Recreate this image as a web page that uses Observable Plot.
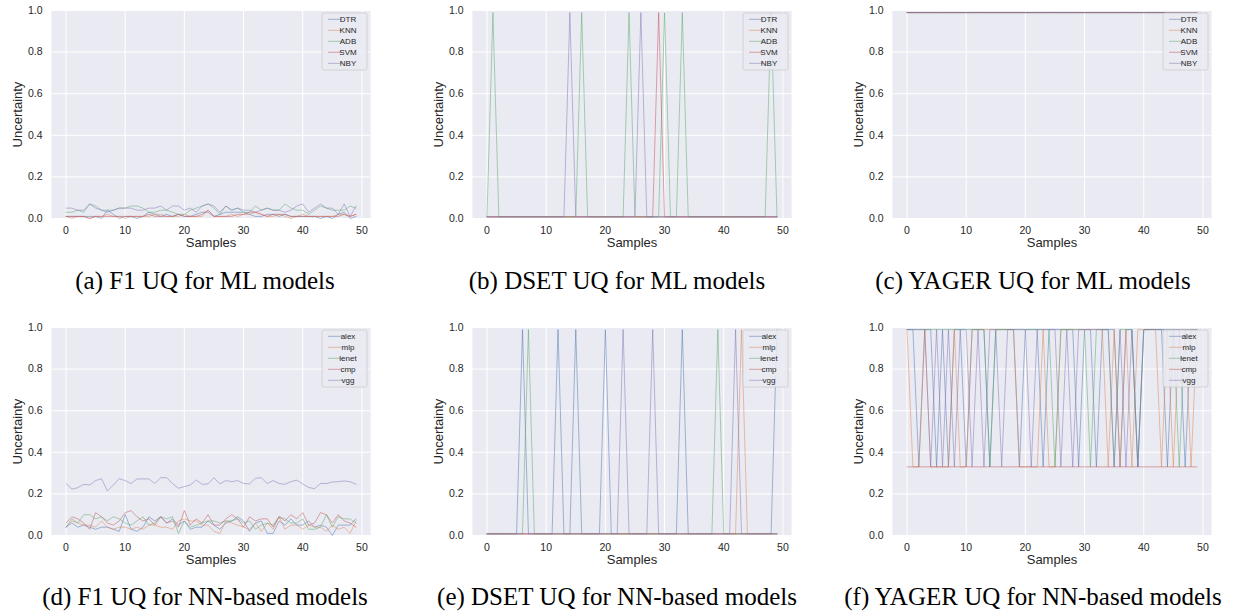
<!DOCTYPE html>
<html><head><meta charset="utf-8">
<script src="https://cdn.jsdelivr.net/npm/d3@7"></script>
<script src="https://cdn.jsdelivr.net/npm/@observablehq/plot@0.6"></script>
<style>
body{margin:0;background:#fff;width:1248px;height:612px;position:relative;overflow:hidden;font-family:"Liberation Sans",Arial,sans-serif}
.panel{position:absolute}
.cap{position:absolute;font-family:"Liberation Serif","Times New Roman",serif;font-size:25px;color:#000;white-space:nowrap;transform:translate(-50%,-50%);line-height:1}
</style></head><body>
<script>
// ---- tick labels / categories ----
const samplesTicks = [0, 10, 20, 30, 40, 50];
const uncertaintyTicks = [0, 0.2, 0.4, 0.6, 0.8, 1.0];
const mlModels = ["DTR", "KNN", "ADB", "SVM", "NBY"];
const nnModels = ["alex", "mlp", "lenet", "cmp", "vgg"];
const palette = ["#4C72B0", "#DD8452", "#55A868", "#C44E52", "#8172B3"];
const captions = ["(a) F1 UQ for ML models", "(b) DSET UQ for ML models", "(c) YAGER UQ for ML models",
  "(d) F1 UQ for NN-based models", "(e) DSET UQ for NN-based models", "(f) YAGER UQ for NN-based models"];

// ---- (a) F1 UQ, ML models ----
const f1ML_DTR = [0.01,0.01,0.01,0.01,0.01,0.01,0.00,0.04,0.02,0.00, 0.01,0.01,0.00,0.01,0.03,0.02,0.01,0.02,0.01,0.02, 0.01,0.01,0.02,0.03,0.03,0.01,0.02,0.03,0.03,0.03, 0.03,0.02,0.01,0.01,0.02,0.02,0.01,0.02,0.01,0.01, 0.01,0.01,0.01,0.00,0.01,0.00,0.02,0.03,0.00,0.01];
const f1ML_KNN = [0.01,0.00,0.01,0.01,0.00,0.01,0.01,0.02,0.01,0.01, 0.00,0.01,0.01,0.01,0.01,0.02,0.02,0.01,0.01,0.01, 0.02,0.01,0.01,0.01,0.04,0.01,0.01,0.01,0.02,0.01, 0.02,0.02,0.03,0.02,0.01,0.01,0.02,0.01,0.00,0.01, 0.02,0.01,0.01,0.01,0.01,0.01,0.02,0.02,0.01,0.02];
const f1ML_ADB = [0.03,0.03,0.04,0.03,0.07,0.06,0.04,0.04,0.04,0.05, 0.05,0.06,0.06,0.05,0.03,0.03,0.04,0.04,0.03,0.02, 0.02,0.04,0.05,0.06,0.07,0.05,0.02,0.06,0.04,0.05, 0.03,0.03,0.06,0.04,0.05,0.04,0.04,0.07,0.05,0.04, 0.04,0.02,0.04,0.06,0.05,0.04,0.04,0.04,0.06,0.05];
const f1ML_SVM = [0.01,0.01,0.01,0.01,0.00,0.01,0.01,0.01,0.01,0.01, 0.01,0.01,0.01,0.01,0.02,0.01,0.01,0.01,0.01,0.02, 0.01,0.01,0.01,0.02,0.04,0.01,0.01,0.01,0.01,0.02, 0.02,0.03,0.03,0.02,0.01,0.02,0.02,0.02,0.01,0.01, 0.01,0.01,0.01,0.01,0.01,0.01,0.01,0.02,0.01,0.02];
const f1ML_NBY = [0.05,0.05,0.04,0.04,0.07,0.05,0.04,0.03,0.04,0.05, 0.05,0.05,0.04,0.04,0.05,0.05,0.06,0.04,0.06,0.06, 0.04,0.05,0.03,0.06,0.07,0.06,0.03,0.06,0.04,0.05, 0.04,0.04,0.03,0.04,0.05,0.04,0.04,0.03,0.04,0.06, 0.07,0.03,0.05,0.07,0.05,0.05,0.02,0.07,0.01,0.06];

// ---- (b) DSET UQ, ML models ----
const dsML_DTR = [0.008,0.008,0.008,0.008,0.008,0.008,0.008,0.008,0.008,0.008, 0.008,0.008,0.008,0.008,0.008,0.008,0.008,0.008,0.008,0.008, 0.008,0.008,0.008,0.008,0.008,0.008,0.008,0.008,0.008,0.008, 0.008,0.008,0.008,0.008,0.008,0.008,0.008,0.008,0.008,0.008, 0.008,0.008,0.008,0.008,0.008,0.008,0.008,0.008,0.008,0.008];
const dsML_KNN = [0.008,0.008,0.008,0.008,0.008,0.008,0.008,0.008,0.008,0.008, 0.008,0.008,0.008,0.008,0.008,0.008,0.008,0.008,0.008,0.008, 0.008,0.008,0.008,0.008,0.008,0.008,0.008,0.008,0.008,0.008, 0.008,0.008,0.008,0.008,0.008,0.008,0.008,0.008,0.008,0.008, 0.008,0.008,0.008,0.008,0.008,0.008,0.008,0.008,0.008,0.008];
const dsML_ADB = [0.008,0.99,0.008,0.008,0.008,0.008,0.008,0.008,0.008,0.008, 0.008,0.008,0.008,0.008,0.008,0.008,0.99,0.008,0.008,0.008, 0.008,0.008,0.008,0.008,0.99,0.008,0.008,0.008,0.008,0.008, 0.99,0.008,0.008,0.99,0.008,0.008,0.008,0.008,0.008,0.008, 0.008,0.008,0.008,0.008,0.008,0.008,0.008,0.008,0.99,0.008];
const dsML_SVM = [0.008,0.008,0.008,0.008,0.008,0.008,0.008,0.008,0.008,0.008, 0.008,0.008,0.008,0.008,0.008,0.008,0.008,0.008,0.008,0.008, 0.008,0.008,0.008,0.008,0.008,0.008,0.008,0.008,0.008,0.99, 0.008,0.008,0.008,0.008,0.008,0.008,0.008,0.008,0.008,0.008, 0.008,0.008,0.008,0.008,0.008,0.008,0.008,0.008,0.008,0.008];
const dsML_NBY = [0.008,0.008,0.008,0.008,0.008,0.008,0.008,0.008,0.008,0.008, 0.008,0.008,0.008,0.008,0.99,0.008,0.008,0.008,0.008,0.008, 0.008,0.008,0.008,0.008,0.008,0.008,0.99,0.008,0.008,0.008, 0.008,0.008,0.008,0.008,0.008,0.008,0.008,0.008,0.008,0.008, 0.008,0.008,0.008,0.008,0.008,0.008,0.008,0.008,0.008,0.008];

// ---- (c) YAGER UQ, ML models ----
const ygML_DTR = [0.99,0.99,0.99,0.99,0.99,0.99,0.99,0.99,0.99,0.99, 0.99,0.99,0.99,0.99,0.99,0.99,0.99,0.99,0.99,0.99, 0.99,0.99,0.99,0.99,0.99,0.99,0.99,0.99,0.99,0.99, 0.99,0.99,0.99,0.99,0.99,0.99,0.99,0.99,0.99,0.99, 0.99,0.99,0.99,0.99,0.99,0.99,0.99,0.99,0.99,0.99];
const ygML_KNN = [0.99,0.99,0.99,0.99,0.99,0.99,0.99,0.99,0.99,0.99, 0.99,0.99,0.99,0.99,0.99,0.99,0.99,0.99,0.99,0.99, 0.99,0.99,0.99,0.99,0.99,0.99,0.99,0.99,0.99,0.99, 0.99,0.99,0.99,0.99,0.99,0.99,0.99,0.99,0.99,0.99, 0.99,0.99,0.99,0.99,0.99,0.99,0.99,0.99,0.99,0.99];
const ygML_ADB = [0.99,0.99,0.99,0.99,0.99,0.99,0.99,0.99,0.99,0.99, 0.99,0.99,0.99,0.99,0.99,0.99,0.99,0.99,0.99,0.99, 0.99,0.99,0.99,0.99,0.99,0.99,0.99,0.99,0.99,0.99, 0.99,0.99,0.99,0.99,0.99,0.99,0.99,0.99,0.99,0.99, 0.99,0.99,0.99,0.99,0.99,0.99,0.99,0.99,0.99,0.99];
const ygML_SVM = [0.99,0.99,0.99,0.99,0.99,0.99,0.99,0.99,0.99,0.99, 0.99,0.99,0.99,0.99,0.99,0.99,0.99,0.99,0.99,0.99, 0.99,0.99,0.99,0.99,0.99,0.99,0.99,0.99,0.99,0.99, 0.99,0.99,0.99,0.99,0.99,0.99,0.99,0.99,0.99,0.99, 0.99,0.99,0.99,0.99,0.99,0.99,0.99,0.99,0.99,0.99];
const ygML_NBY = [0.99,0.99,0.99,0.99,0.99,0.99,0.99,0.99,0.99,0.99, 0.99,0.99,0.99,0.99,0.99,0.99,0.99,0.99,0.99,0.99, 0.99,0.99,0.99,0.99,0.99,0.99,0.99,0.99,0.99,0.99, 0.99,0.99,0.99,0.99,0.99,0.99,0.99,0.99,0.99,0.99, 0.99,0.99,0.99,0.99,0.99,0.99,0.99,0.99,0.99,0.99];

// ---- (d) F1 UQ, NN models ----
const f1NN_alex = [0.04,0.06,0.04,0.05,0.04,0.03,0.04,0.04,0.03,0.02, 0.10,0.03,0.02,0.04,0.09,0.07,0.09,0.06,0.08,0.05, 0.07,0.03,0.04,0.04,0.07,0.05,0.03,0.06,0.07,0.09, 0.07,0.02,0.06,0.07,0.01,0.01,0.07,0.05,0.08,0.05, 0.05,0.07,0.04,0.05,0.04,0.00,0.05,0.05,0.05,0.08];
const f1NN_mlp = [0.04,0.07,0.06,0.05,0.05,0.04,0.07,0.04,0.03,0.04, 0.04,0.03,0.04,0.03,0.05,0.05,0.04,0.04,0.03,0.07, 0.08,0.07,0.07,0.05,0.05,0.02,0.01,0.07,0.06,0.05, 0.04,0.03,0.06,0.02,0.06,0.03,0.09,0.03,0.05,0.05, 0.03,0.05,0.04,0.04,0.02,0.05,0.03,0.04,0.01,0.07];
const f1NN_lenet = [0.04,0.08,0.06,0.10,0.10,0.08,0.09,0.07,0.09,0.08, 0.06,0.05,0.07,0.09,0.05,0.06,0.09,0.08,0.09,0.01, 0.07,0.04,0.05,0.06,0.07,0.07,0.06,0.07,0.07,0.08, 0.06,0.07,0.03,0.05,0.06,0.05,0.09,0.08,0.06,0.06, 0.08,0.03,0.03,0.04,0.10,0.04,0.09,0.08,0.08,0.06];
const f1NN_cmp = [0.06,0.09,0.08,0.06,0.03,0.11,0.09,0.06,0.05,0.07, 0.11,0.12,0.09,0.07,0.08,0.05,0.09,0.06,0.07,0.04, 0.12,0.05,0.08,0.06,0.10,0.05,0.05,0.08,0.10,0.08, 0.04,0.09,0.07,0.08,0.08,0.04,0.09,0.07,0.10,0.08, 0.11,0.05,0.06,0.11,0.10,0.06,0.10,0.07,0.06,0.04];
const f1NN_vgg = [0.25,0.223,0.23,0.246,0.243,0.264,0.273,0.214,0.243,0.273, 0.264,0.25,0.272,0.272,0.272,0.25,0.278,0.278,0.25,0.227, 0.235,0.243,0.267,0.246,0.248,0.278,0.248,0.264,0.259,0.264, 0.25,0.248,0.275,0.278,0.25,0.264,0.25,0.246,0.259,0.266, 0.248,0.231,0.225,0.25,0.25,0.257,0.259,0.262,0.259,0.246];

// ---- (e) DSET UQ, NN models ----
const dsNN_alex = [0.008,0.008,0.008,0.008,0.008,0.008,0.99,0.008,0.008,0.008, 0.008,0.008,0.99,0.008,0.008,0.99,0.008,0.008,0.008,0.008, 0.99,0.008,0.008,0.008,0.008,0.008,0.008,0.008,0.008,0.008, 0.008,0.008,0.008,0.99,0.008,0.008,0.008,0.008,0.008,0.008, 0.008,0.008,0.008,0.008,0.008,0.008,0.008,0.008,0.008,0.99];
const dsNN_mlp = [0.008,0.008,0.008,0.008,0.008,0.008,0.008,0.008,0.008,0.008, 0.008,0.008,0.008,0.008,0.008,0.008,0.008,0.008,0.008,0.008, 0.008,0.008,0.008,0.008,0.008,0.008,0.008,0.008,0.008,0.008, 0.008,0.008,0.008,0.008,0.008,0.008,0.008,0.008,0.008,0.008, 0.008,0.008,0.008,0.99,0.008,0.008,0.008,0.008,0.008,0.008];
const dsNN_lenet = [0.008,0.008,0.008,0.008,0.008,0.008,0.008,0.99,0.008,0.008, 0.008,0.008,0.008,0.008,0.008,0.008,0.008,0.008,0.008,0.008, 0.008,0.008,0.008,0.008,0.008,0.008,0.008,0.008,0.008,0.008, 0.008,0.008,0.008,0.008,0.008,0.008,0.008,0.008,0.008,0.99, 0.008,0.008,0.008,0.008,0.008,0.008,0.008,0.008,0.008,0.008];
const dsNN_cmp = [0.008,0.008,0.008,0.008,0.008,0.008,0.008,0.008,0.008,0.008, 0.008,0.008,0.008,0.008,0.008,0.008,0.008,0.008,0.008,0.008, 0.008,0.008,0.008,0.008,0.008,0.008,0.008,0.008,0.008,0.008, 0.008,0.008,0.008,0.008,0.008,0.008,0.008,0.008,0.008,0.008, 0.008,0.008,0.008,0.008,0.008,0.008,0.008,0.008,0.008,0.008];
const dsNN_vgg = [0.008,0.008,0.008,0.008,0.008,0.008,0.008,0.008,0.008,0.008, 0.008,0.008,0.008,0.008,0.008,0.008,0.008,0.008,0.008,0.008, 0.008,0.008,0.008,0.99,0.008,0.008,0.008,0.008,0.99,0.008, 0.008,0.008,0.008,0.008,0.008,0.008,0.008,0.008,0.008,0.008, 0.008,0.008,0.99,0.008,0.008,0.008,0.008,0.008,0.008,0.008];

// ---- (f) YAGER UQ, NN models ----
const ygNN_alex = [0.99,0.99,0.33,0.99,0.99,0.33,0.99,0.33,0.99,0.99, 0.33,0.99,0.99,0.99,0.33,0.99,0.99,0.99,0.99,0.33, 0.99,0.99,0.99,0.33,0.99,0.99,0.99,0.99,0.99,0.33, 0.99,0.99,0.33,0.99,0.99,0.99,0.33,0.99,0.99,0.33, 0.99,0.99,0.99,0.99,0.33,0.99,0.99,0.33,0.99,0.99];
const ygNN_mlp = [0.99,0.33,0.33,0.99,0.33,0.33,0.33,0.33,0.99,0.33, 0.33,0.99,0.99,0.99,0.99,0.99,0.99,0.99,0.99,0.33, 0.33,0.33,0.33,0.99,0.33,0.33,0.99,0.99,0.99,0.99, 0.99,0.99,0.99,0.99,0.33,0.99,0.33,0.99,0.33,0.99, 0.99,0.99,0.99,0.33,0.99,0.33,0.99,0.99,0.33,0.99];
const ygNN_lenet = [0.99,0.99,0.99,0.99,0.99,0.99,0.99,0.99,0.99,0.99, 0.99,0.99,0.99,0.99,0.33,0.99,0.99,0.99,0.99,0.99, 0.99,0.99,0.99,0.99,0.99,0.33,0.99,0.99,0.99,0.99, 0.99,0.33,0.99,0.99,0.99,0.33,0.99,0.99,0.99,0.33, 0.99,0.99,0.99,0.99,0.99,0.99,0.33,0.99,0.99,0.99];
const ygNN_cmp = [0.33,0.33,0.33,0.33,0.33,0.33,0.33,0.33,0.33,0.33, 0.33,0.33,0.33,0.33,0.33,0.33,0.33,0.33,0.33,0.33, 0.33,0.33,0.33,0.33,0.33,0.33,0.33,0.33,0.33,0.33, 0.33,0.33,0.33,0.33,0.33,0.33,0.33,0.33,0.33,0.33, 0.33,0.33,0.33,0.33,0.33,0.33,0.33,0.33,0.33,0.33];
const ygNN_vgg = [0.99,0.99,0.99,0.99,0.33,0.99,0.33,0.99,0.33,0.99, 0.99,0.33,0.99,0.33,0.99,0.99,0.33,0.99,0.99,0.99, 0.99,0.33,0.99,0.99,0.99,0.99,0.33,0.99,0.33,0.99, 0.99,0.99,0.99,0.99,0.99,0.33,0.99,0.33,0.99,0.33, 0.99,0.99,0.99,0.99,0.99,0.99,0.99,0.99,0.99,0.99];

const panels = [
  {names: mlModels, series: [f1ML_DTR, f1ML_KNN, f1ML_ADB, f1ML_SVM, f1ML_NBY]},
  {names: mlModels, series: [dsML_DTR, dsML_KNN, dsML_ADB, dsML_SVM, dsML_NBY]},
  {names: mlModels, series: [ygML_DTR, ygML_KNN, ygML_ADB, ygML_SVM, ygML_NBY]},
  {names: nnModels, series: [f1NN_alex, f1NN_mlp, f1NN_lenet, f1NN_cmp, f1NN_vgg]},
  {names: nnModels, series: [dsNN_alex, dsNN_mlp, dsNN_lenet, dsNN_cmp, dsNN_vgg]},
  {names: nnModels, series: [ygNN_alex, ygNN_mlp, ygNN_lenet, ygNN_cmp, ygNN_vgg]}
];

const colLeft = [1, 422, 842];
const rowTop = [0, 317];
const capX = [205, 617, 1033];
const capY = [280, 596];
const ML = 50, MR = 8, MT = 10, MB = 40, PW = 319, PH = 208;
const lineW = 0.9, lineOp = 0.55;

panels.forEach((p, idx) => {
  const col = idx % 3, row = Math.floor(idx / 3);
  const data = p.series.flatMap((vals, k) => vals.map((v, i) => ({sample: i, value: v, model: p.names[k]})));
  const chart = Plot.plot({
    width: ML + PW + MR, height: MT + PH + MB,
    marginLeft: ML, marginRight: MR, marginTop: MT, marginBottom: MB,
    style: {background: "transparent", fontFamily: "'Liberation Sans', Arial, sans-serif", fontSize: "10px", color: "#262626", overflow: "visible"},
    x: {domain: [-2.45, 51.45], inset: 0},
    y: {domain: [0, 1], inset: 0},
    color: {domain: p.names, range: palette},
    marks: [
      Plot.frame({fill: "#EAEAF2"}),
      Plot.gridX(samplesTicks, {stroke: "#ffffff", strokeOpacity: 1, strokeWidth: 1}),
      Plot.gridY(uncertaintyTicks, {stroke: "#ffffff", strokeOpacity: 1, strokeWidth: 1}),
      Plot.axisX(samplesTicks, {tickSize: 0, tickPadding: 8, label: null, fontSize: 10.5, color: "#262626"}),
      Plot.axisY(uncertaintyTicks, {tickSize: 0, tickPadding: 9, label: null, tickFormat: d3.format(".1f"), fontSize: 10.5, color: "#262626"}),
      Plot.lineY(data, {x: "sample", y: "value", stroke: "model", strokeWidth: lineW, strokeOpacity: lineOp}),
      Plot.text(["Samples"], {frameAnchor: "bottom", dy: 28, fontSize: 13, text: d => d, fill: "#262626"}),
      Plot.text(["Uncertainty"], {frameAnchor: "left", dx: -34, rotate: -90, textAnchor: "middle", fontSize: 13, text: d => d, fill: "#262626"})
    ]
  });
  // legend box (upper right, inside the axes)
  const svg = d3.select(chart);
  const g = svg.append("g").attr("transform", `translate(${ML + PW - 48},${MT + 3})`);
  g.append("rect").attr("width", 45).attr("height", 57).attr("rx", 2)
    .attr("fill", "#EAEAF2").attr("fill-opacity", 0.85).attr("stroke", "#cccccc").attr("stroke-width", 0.8);
  p.names.forEach((n, k) => {
    const yy = 6.3 + 11 * k;
    g.append("line").attr("x1", 6).attr("x2", 20).attr("y1", yy).attr("y2", yy)
      .attr("stroke", palette[k]).attr("stroke-opacity", lineOp).attr("stroke-width", lineW);
    g.append("text").attr("x", 26).attr("y", yy).attr("dy", "0.35em")
      .attr("font-size", 8).attr("fill", "#262626").text(n);
  });
  const holder = document.createElement("div");
  holder.className = "panel";
  holder.style.left = colLeft[col] + "px";
  holder.style.top = rowTop[row] + "px";
  holder.appendChild(chart);
  document.body.appendChild(holder);
  const cap = document.createElement("div");
  cap.className = "cap";
  cap.style.left = capX[col] + "px";
  cap.style.top = capY[row] + "px";
  cap.textContent = captions[idx];
  document.body.appendChild(cap);
});
</script>
</body></html>
